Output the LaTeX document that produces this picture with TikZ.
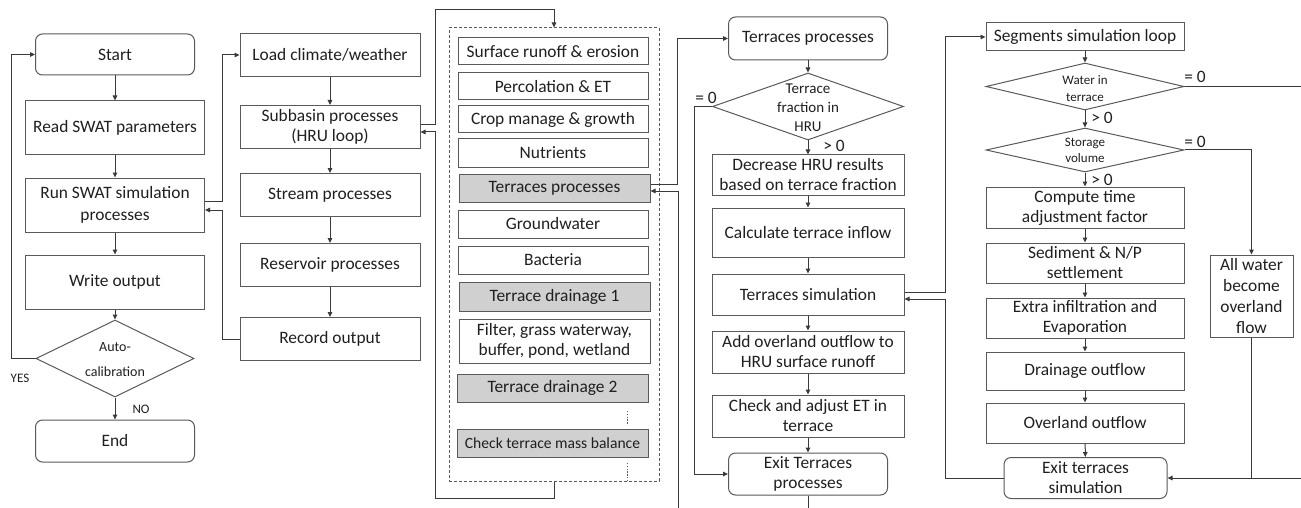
\documentclass[tikz,border=0pt]{standalone}
\usepackage{fontspec}
\setmainfont{Carlito}
\usetikzlibrary{arrows.meta,shapes.geometric}
\definecolor{bord}{HTML}{595959}
\definecolor{conn}{HTML}{3A3A3A}
\definecolor{txt}{HTML}{1F1F1F}
\definecolor{gfill}{HTML}{D0D0D0}
\tikzset{
  box/.style={draw=bord, line width=1pt, align=center, inner sep=0pt, text=txt, font=\fontsize{17.4}{20}\selectfont},
  rbox/.style={box, rounded corners=7pt},
  gbox/.style={box, fill=gfill},
  dia/.style={diamond, draw=bord, line width=1pt, inner sep=0pt},
  arr/.style={draw=conn, line width=1pt, -{Triangle[length=5pt,width=4.5pt]}},
  ln/.style={draw=conn, line width=1pt},
  lab/.style={text=txt, font=\fontsize{17.4}{20}\selectfont, inner sep=0pt},
  small/.style={text=txt, font=\fontsize{13}{16}\selectfont, inner sep=0pt, align=center},
  dotv/.style={draw=bord, line width=1pt, dash pattern=on 1.4pt off 1.4pt},
}
\begin{document}
\begin{tikzpicture}[x=1pt, y=-1pt]
\useasboundingbox (0,0) rectangle (1301,508);

% ---------- column 1
\node[rbox, minimum width=159pt, minimum height=41pt] (start) at (115,54.5) {Start};
\node[box, minimum width=179pt, minimum height=54pt] (read) at (115,128) {Read SWAT parameters};
\node[box, minimum width=179pt, minimum height=54pt] (run) at (115,205) {Run SWAT simulation\\[2pt]processes};
\node[box, minimum width=179pt, minimum height=54pt] (write) at (115,282) {Write output};
\node[dia, minimum width=158pt, minimum height=77pt] (auto) at (115,358.5) {};
\node[small, font=\fontsize{14}{25}\selectfont] (autot) at (115,360) {Auto-\\calibration};
\node[rbox, minimum width=159pt, minimum height=42pt] (end) at (115,441) {End};
\node[small] (yes) at (20,378) {YES};
\node[small] (no) at (141,409) {NO};

\draw[arr] (start) -- (read);
\draw[arr] (read) -- (run);
\draw[arr] (run) -- (write);
\draw[arr] (write.south) -- (auto.north);
\draw[arr] (auto.south) -- (end.north);
\draw[arr] (auto.west) -- ++(-24,0) |- (start.west);

% ---------- column 2
\node[box, minimum width=180pt, minimum height=43pt] (load) at (330,55) {Load climate/weather};
\node[box, minimum width=180pt, minimum height=43pt] (sub) at (330,127) {Subbasin processes\\(HRU loop)};
\node[box, minimum width=180pt, minimum height=43pt] (stream) at (330,195) {Stream processes};
\node[box, minimum width=180pt, minimum height=43pt] (res) at (330,265) {Reservoir processes};
\node[box, minimum width=180pt, minimum height=43pt] (record) at (330,339) {Record output};

\draw[arr] (run.east |- 0,201) -- (222,201) |- (load.west);
\draw[arr] (record.west) -- (222,339) |- (run.east |- 0,210);
\draw[arr] (load) -- (sub);
\draw[arr] (sub) -- (stream);
\draw[arr] (stream) -- (res);
\draw[arr] (res) -- (record);

% ---------- column 3 (HRU loop)
\node[draw=bord, line width=1pt, dash pattern=on 3pt off 2pt, minimum width=210pt, minimum height=453pt, inner sep=0pt] (hru) at (554,254.5) {};
\node[box, minimum width=190pt, minimum height=27pt] (surf) at (553,51.5) {Surface runoff \& erosion};
\node[box, minimum width=190pt, minimum height=27pt] (perc) at (553,86.5) {Percolation \& ET};
\node[box, minimum width=190pt, minimum height=27pt] (crop) at (553,119.5) {Crop manage \& growth};
\node[box, minimum width=190pt, minimum height=28pt] (nutr) at (553,153) {Nutrients};
\node[gbox, minimum width=191pt, minimum height=28pt] (tpg) at (554.5,188) {Terraces processes};
\node[box, minimum width=190pt, minimum height=28pt] (gw) at (553,224) {Groundwater};
\node[box, minimum width=190pt, minimum height=28pt] (bact) at (553,260) {Bacteria};
\node[gbox, minimum width=191pt, minimum height=29pt] (td1) at (554.5,296.5) {Terrace drainage 1};
\node[box, minimum width=191pt, minimum height=44pt] (filt) at (554.5,341) {Filter, grass waterway,\\buffer, pond, wetland};
\node[gbox, minimum width=191pt, minimum height=28pt] (td2) at (552.5,388) {Terrace drainage 2};
\node[gbox, minimum width=191pt, minimum height=28pt, font=\fontsize{15.6}{18}\selectfont] (chk) at (552.5,443) {Check terrace mass balance};
\draw[dotv] (627,411) -- (627,425);
\draw[dotv] (627,463) -- (627,480);

\draw[arr] (sub.east |- 0,125) -- (435,125) |- (hru.north |- 0,10) -- (hru.north);
\draw[arr] (hru.south) -- (hru.south |- 0,498) -| (435,132) -- (sub.east |- 0,132);

% ---------- column 4 (terraces processes)
\node[rbox, minimum width=159pt, minimum height=43pt] (tp) at (808,38.5) {Terraces processes};
\node[dia, minimum width=191pt, minimum height=67pt] (tfd) at (808,106.5) {};
\node[small, font=\fontsize{15}{19}\selectfont] (tfdt) at (808,108) {Terrace\\fraction in\\HRU};
\node[box, minimum width=192pt, minimum height=40pt] (dec) at (808,175) {Decrease HRU results\\based on terrace fraction};
\node[box, minimum width=192pt, minimum height=49pt] (calc) at (808,232.5) {Calculate terrace inflow};
\node[box, minimum width=192pt, minimum height=41pt] (tsim) at (808,294.5) {Terraces simulation};
\node[box, minimum width=192pt, minimum height=42pt] (addo) at (808,352) {Add overland outflow to\\HRU surface runoff};
\node[box, minimum width=192pt, minimum height=42pt] (cadj) at (808,416) {Check and adjust ET in\\terrace};
\node[rbox, minimum width=159pt, minimum height=42pt] (etp) at (808,474) {Exit Terraces\\processes};
\node[lab] (eq1) at (706,98) {= 0};
\node[lab] (gt1) at (834,146) {> 0};
\coordinate (b1) at (678,508);
\coordinate (b2) at (808,508);

\draw[arr] (tpg.east |- 0,184) -- (677,184) |- (tp.west);
\draw[arr] (b1) -- (678,191) -- (tpg.east |- 0,191);
\draw[arr] (tp) -- (tfd);
\draw[arr] (tfd.south) -- (dec.north);
\draw[arr] (dec) -- (calc);
\draw[arr] (calc) -- (tsim);
\draw[arr] (tsim) -- (addo);
\draw[arr] (addo) -- (cadj);
\draw[arr] (cadj) -- (etp);
\draw[arr] (tfd.west) -- (694,106.5) |- (etp.west);
\draw[ln] (etp.south) -- (b2);

% ---------- column 5 (segments loop)
\node[box, minimum width=198pt, minimum height=28pt] (seg) at (1085,37) {Segments simulation loop};
\node[dia, minimum width=198pt, minimum height=47pt] (wit) at (1085,86.5) {};
\node[small, font=\fontsize{13}{17}\selectfont] (witt) at (1085,88.5) {Water in\\terrace};
\node[dia, minimum width=198pt, minimum height=44pt] (stor) at (1085,150) {};
\node[small, font=\fontsize{13}{16}\selectfont] (stort) at (1085,150.5) {Storage\\volume};
\node[box, minimum width=198pt, minimum height=41pt] (comp) at (1085,207.5) {Compute time\\adjustment factor};
\node[box, minimum width=198pt, minimum height=40pt] (sed) at (1085,263) {Sediment \& N/P\\settlement};
\node[box, minimum width=198pt, minimum height=40pt] (extra) at (1085,318) {Extra infiltration and\\Evaporation};
\node[box, minimum width=198pt, minimum height=38pt] (drain) at (1085,371) {Drainage outflow};
\node[box, minimum width=198pt, minimum height=40pt] (over) at (1085,423) {Overland outflow};
\node[rbox, minimum width=163pt, minimum height=41pt] (ets) at (1085.5,478) {Exit terraces\\simulation};
\node[box, minimum width=83pt, minimum height=82pt, font=\fontsize{17.4}{21}\selectfont] (allw) at (1251.5,296) {All water\\become\\overland\\flow};
\node[lab] (eq2) at (1195,77) {= 0};
\node[lab] (eq3) at (1195,142) {= 0};
\node[lab] (gt2) at (1102,118) {> 0};
\node[lab] (gt3) at (1102,180) {> 0};
\coordinate (r1) at (1301,86.5);
\coordinate (r2) at (1301,478);

\draw[arr] (tsim.east |- 0,292) -- (945,292) |- (seg.west);
\draw[arr] (ets.west) -| (945,299) -- (tsim.east |- 0,299);
\draw[arr] (seg) -- (wit);
\draw[arr] (wit.south) -- (stor.north);
\draw[arr] (stor.south) -- (comp.north);
\draw[arr] (comp) -- (sed);
\draw[arr] (sed) -- (extra);
\draw[arr] (extra) -- (drain);
\draw[arr] (drain) -- (over);
\draw[arr] (over) -- (ets);
\draw[ln] (wit.east) -- (r1);
\draw[arr] (stor.east) -| (allw.north);
\draw[ln] (allw.south) -- (allw.south |- r2);
\draw[arr] (r2) -- (ets.east);
\end{tikzpicture}
\end{document}
